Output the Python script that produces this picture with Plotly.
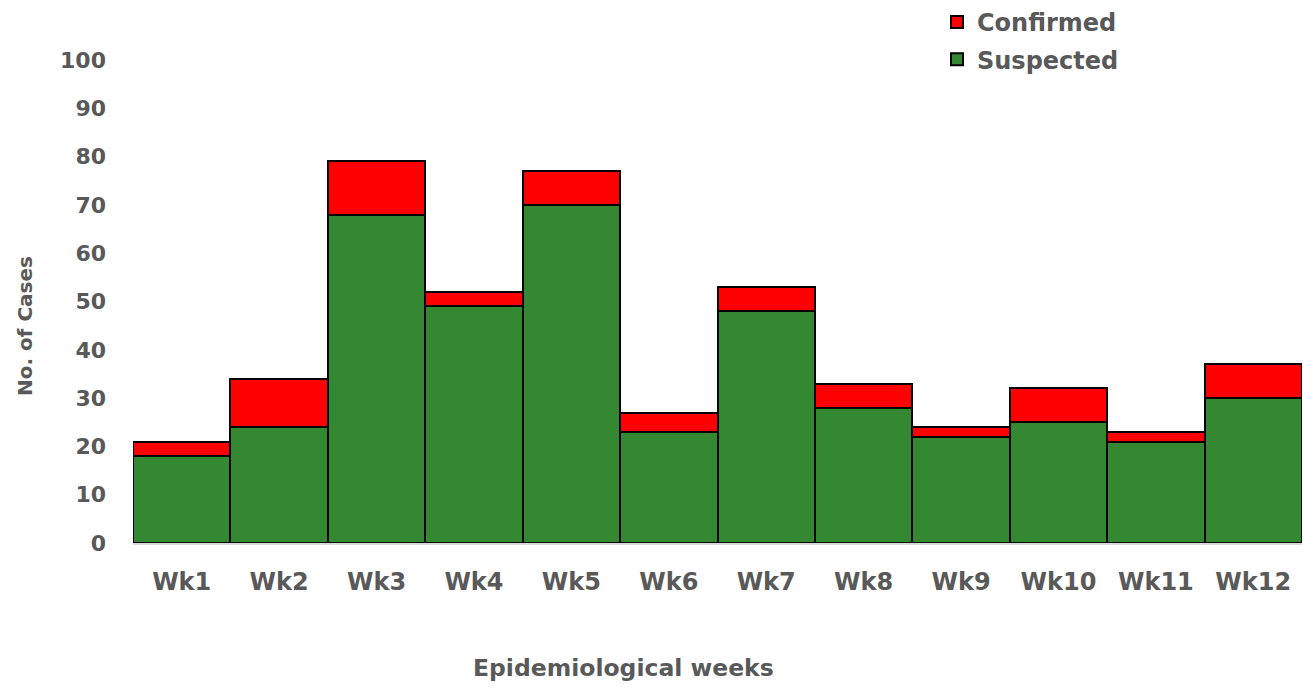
import plotly.graph_objects as go

weeks = ["Wk1", "Wk2", "Wk3", "Wk4", "Wk5", "Wk6", "Wk7", "Wk8", "Wk9", "Wk10", "Wk11", "Wk12"]
suspected = [18, 24, 68, 49, 70, 23, 48, 28, 22, 25, 21, 30]
confirmed = [3, 10, 11, 3, 7, 4, 5, 5, 2, 7, 2, 7]
y_ticks = [0, 10, 20, 30, 40, 50, 60, 70, 80, 90, 100]

FONT = "DejaVu Sans"
GRAY = "#595959"
W, H = 1303, 691
L, R, T, B = 133, 1, 60, 148

fig = go.Figure()
fig.add_trace(go.Bar(x=weeks, y=suspected, name="Suspected", legendrank=2, legendgroup="s",
                     marker=dict(color="#358832", line=dict(color="black", width=2))))
fig.add_trace(go.Bar(x=weeks, y=confirmed, name="Confirmed", legendrank=1, legendgroup="c",
                     marker=dict(color="#ff0000", line=dict(color="black", width=2))))

pw = W - L - R
ph = H - T - B

fig.update_layout(
    width=W, height=H,
    barmode="stack", bargap=0,
    plot_bgcolor="white", paper_bgcolor="white",
    margin=dict(l=L, r=R, t=T, b=B, autoexpand=False),
    font=dict(family=FONT, color=GRAY, size=20),
    showlegend=True,
    legend=dict(xref="container", yref="container", x=937 / W, y=1 - 0 / H,
                xanchor="left", yanchor="top", traceorder="grouped", tracegroupgap=3,
                font=dict(family=FONT, size=24, color=GRAY, weight="bold"),
                bgcolor="rgba(0,0,0,0)"),
    xaxis=dict(showline=True, linecolor="#d9d9d9", linewidth=2, ticks="",
               ticklabelstandoff=16,
               tickfont=dict(family=FONT, size=24, color=GRAY, weight="bold")),
    yaxis=dict(range=[0, 100], tickvals=y_ticks, showgrid=False, showline=False, zeroline=False,
               ticks="", ticklabelstandoff=26,
               tickfont=dict(family=FONT, size=22, color=GRAY, weight="bold")),
    annotations=[
        dict(text="No. of Cases", x=(25 - L) / pw, y=(H - B - 326) / ph, xref="paper", yref="paper",
             xanchor="center", yanchor="middle", showarrow=False, textangle=-90,
             font=dict(family=FONT, size=20, color=GRAY, weight="bold")),
        dict(text="Epidemiological weeks", x=(623 - L) / pw, y=(H - B - 668) / ph,
             xref="paper", yref="paper", xanchor="center", yanchor="middle", showarrow=False,
             font=dict(family=FONT, size=23.5, color=GRAY, weight="bold")),
    ],
)

fig.write_html("out.html", config={"displayModeBar": False},
               post_script="document.body.style.margin='0';")
